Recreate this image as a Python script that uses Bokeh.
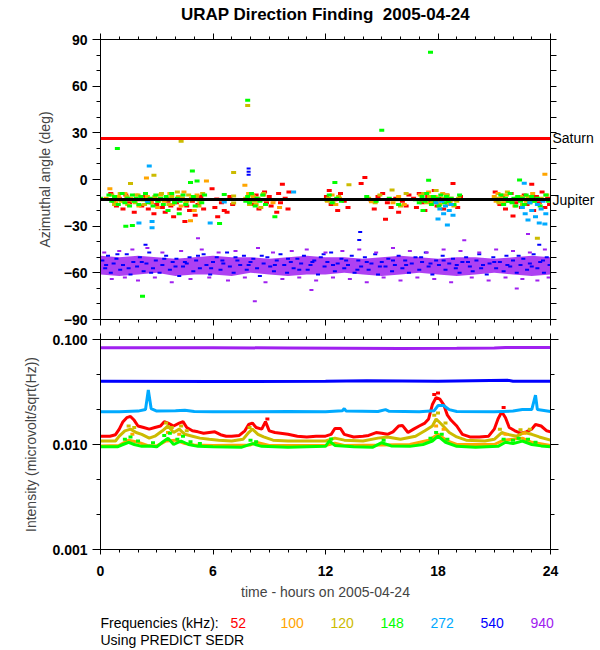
from bokeh.plotting import figure
from bokeh.models import (Range1d, LinearAxis, LogAxis, FixedTicker,
                          PrintfTickFormatter, Span)
from bokeh.core.properties import value
from bokeh.layouts import column
from bokeh.embed import file_html
from bokeh.resources import INLINE

# ---------------- data ----------------
title_text = "URAP Direction Finding \u00a02005-04-24"
y_label_top = "Azimuthal angle (deg)"
y_label_bot = "Intensity (microvolt/sqrt(Hz))"
x_label = "time - hours on 2005-04-24"
legend_title = "Frequencies (kHz):"
footer_text = "Using PREDICT SEDR"
freq_labels = ["52", "100", "120", "148", "272", "540", "940"]
freq_colors = ["#FF0000", "#FFA500", "#CCBB00", "#00FF00", "#00AAFF", "#0000FF", "#A020F0"]

hour_ticks = [0, 6, 12, 18, 24]
hour_minor = list(range(0, 25))
az_ticks = [-90, -60, -30, 0, 30, 60, 90]
az_minor = list(range(-90, 91, 10))
int_ticks = [0.001, 0.01, 0.1]
int_minor = [0.00215, 0.00464, 0.0215, 0.0464]

saturn_az = 26.4
jupiter_az = -12.9
body_names = {saturn_az: "Saturn", jupiter_az: "Jupiter"}

# azimuth scatter (hours, deg) per frequency
az_52 = [(0.55,-9),(0.7,-14),(0.85,-17),(1.0,-12),(1.2,-19),(1.35,-10),(1.55,-15),(1.8,-21),(2.0,-13),
         (2.2,-17),(2.4,-11),(2.55,-19),(2.7,-15),(2.85,-22),(3.0,-16),(3.1,-13),(3.3,-18),(3.45,-21),
         (3.6,-14),(3.75,-17),(3.9,-24),(4.05,-15),(4.2,-19),(4.35,-12),(4.5,-27),(4.6,-17),(4.75,-20),
         (4.9,-14),(5.05,-23),(5.2,-16),(5.35,-11),(5.5,-19),
         (5.95,-6),(6.1,-18),(6.2,-12.5),(6.25,-24),(6.45,-15),(6.6,-20),(6.75,-21),(6.9,-11),(7.05,-16),
         (8.1,-16),(8.3,-10),(8.45,-19),(8.6,-13),(8.75,-8),(8.85,-15),(9.0,-11),(9.1,-17),(9.25,-13),
         (9.4,-21),(9.5,-9),(9.6,-15),(9.7,-3),(9.85,-12),(10.0,-19),(10.05,-8),
         (12.05,-11),(12.2,-7),(12.3,-16),(12.5,-13),(12.65,-20),(12.8,-9),(13.0,-14),(13.2,-18),
         (13.9,-2.5),(14.1,1.3),
         (14.4,-13),(14.6,-19),(14.8,-11),(15.05,-9),(15.2,-25.5),(15.3,-15),(15.5,-18),(15.75,-12),
         (15.9,-21),(16.1,-14),(16.3,-17),(16.45,-10),
         (16.7,-12),(16.85,-18),(17.0,-9),(17.15,-15),(17.3,-20),(17.45,-11),(17.6,-14),(17.8,-7),
         (17.95,-17),(18.1,-12),(18.3,-19),(18.45,-10),(18.6,-15),(18.8,-2.5),(18.9,-13),(19.05,-18),(19.2,-11),
         (21.05,-8),(21.15,-13),(21.3,-16),(21.45,-11),(21.6,-19),(21.75,-14),(21.9,-9),(22.0,-23.5),
         (22.15,-15),(22.3,-12),(22.45,-18),(22.6,-10),(22.75,-16),(22.9,-13),(23.0,-3),(23.1,-20),
         (23.25,-11),(23.4,-15),(23.55,-8),(23.7,-18),(23.85,-12),(23.95,-16)]

az_100 = [(0.3,-12),(0.5,-6),(0.65,-13),(0.8,-15),(0.95,-11),(1.1,-14),(1.3,-9),(1.45,-16),(1.6,-12),
          (1.75,-14),(1.9,-10),(2.05,-17),(2.25,-13),(2.45,1.0),(2.5,-11),(2.7,-15),(2.9,-12),(3.05,-18),
          (3.2,-10),(3.4,-14),(3.55,-12),(3.7,-9),(3.85,-16),(4.0,-13),(4.15,-11),(4.3,-17),(4.45,-8),
          (4.6,-14),(4.8,-26.5),(4.85,-12),(5.0,-20),(5.15,-10),(5.3,-15),(5.65,-1),
          (7.7,-3.7),(7.75,-12),(7.9,-9),(8.0,-14),(8.15,-11),(8.3,-16),(8.5,-13),(8.7,-10),(9.2,-15),(9.55,-18),
          (12.1,-14),(12.35,-10),(12.55,-16),(12.75,-12),
          (14.45,-14.3),(14.6,-13),(15.6,-15),(15.9,-11),(16.2,-16),
          (17.05,-10),(17.3,-13),(17.5,-8),(17.7,-15),(17.85,-11),(18.05,-14),(18.25,-9),(18.5,-16),
          (18.7,-12),(19.0,-14),
          (21.0,-11),(21.1,-14),(21.2,-9),(21.35,-12),(21.5,-15),(21.65,-10),(21.8,-13),(22.1,-17),
          (22.4,-11),(22.7,-14),(23.05,-9),(23.35,-16),(23.7,3.4)]

az_120 = [(0.6,-10),(0.75,-16),(0.9,-12),(1.05,-9),(1.25,-14),(1.4,-11),(1.6,-2.6),(1.65,-13),(1.85,-15),
          (2.0,-10),(2.2,-12),(2.35,-16),(2.6,-13),(2.85,2.8),(2.9,-11),(3.1,-14),(3.25,-9),(3.45,-13),
          (3.65,-16),(3.8,-11),(3.95,-14),(4.1,-8),(4.3,24.6),(4.35,-12),(4.55,-15),(4.7,-10),(4.9,-13),
          (5.1,-11),(5.25,-17),(5.45,-9),
          (7.1,-10.6),(7.1,-15.1),(7.1,4.5),(6.5,-13),
          (7.85,47.6),(7.8,-13),(7.95,-16),(8.1,-10),(8.25,-14),(8.4,-12),(8.55,-18),(8.7,-9),(8.9,-13),
          (12.15,-12),(12.4,-15),(13.25,-3.4),(12.7,-11),
          (14.3,-12),(14.65,-15),(14.9,-10),(15.55,-6.8),(15.8,-13),(16.0,-17),(16.3,-9),
          (17.1,-13),(17.25,-9),(17.4,-15),(17.55,-11),(17.75,-14),(17.9,-7),(18.1,-16),(18.3,-12),
          (18.5,-10),(18.65,-14),(18.85,-17),(19.1,-12),
          (21.1,-12),(21.25,-15),(21.4,-10),(21.55,-13),(21.7,-8),(21.9,-14),(22.2,-12),(22.5,-16),
          (22.8,-11),(23.1,-14),(23.3,-37.7),(23.5,-12),(23.8,-10)]

az_148 = [(0.0,-12),(0.45,-10),(0.6,-14),(0.75,-11),(0.9,20),(0.95,-16),(1.05,-13),(1.15,-9),(1.3,-15),
          (1.35,-30),(1.45,-12),(1.55,-17),(1.7,-29.5),(1.7,-10),(1.8,-14),(1.9,-12),(2.05,-16),(2.15,-11),
          (2.24,-75),(2.3,-13),(2.4,-9),(2.55,-15),(2.65,-12),(2.8,-17),(2.95,-10),(3.05,-14),(3.2,-12),
          (3.35,-16),(3.5,-11),(3.6,-20),(3.65,-13),(3.8,-9),(3.95,-15),(4.1,-12),(4.2,-22),(4.25,-14),
          (4.4,-10),(4.55,-16),(4.7,-13),(4.8,-2),(4.9,5.5),(4.95,-11),(5.05,-17),(5.15,-1),(5.2,-13),
          (5.4,-15),(5.55,-10),
          (6.6,-9.6),(6.35,-28.3),
          (7.85,51),(7.75,-14),(7.85,-11),(7.95,-15),(8.05,-9),(8.15,-13),(8.25,-17),(8.35,-12),(8.5,-14),
          (8.65,-10),(8.8,-16),(9.3,-24),
          (12.05,-13),(12.2,-10),(12.35,-15),(12.5,-2),(12.6,-12),(12.85,-14),
          (14.2,-11),(14.7,-14),(15.0,31.7),(15.4,-12),(15.9,-16),
          (16.8,-13),(17.0,-15),(17.15,-11),(17.3,-14),(17.4,-9),(17.5,-0.5),(17.55,-13),(17.6,81.8),
          (17.65,-16),(17.75,-11),(17.85,-14),(17.95,-12),(18.05,-17),(18.15,-10),(18.25,-13),(18.35,-15),
          (18.45,-11),(18.55,-14),(18.7,-12),(18.85,-16),(19.0,-13),(19.15,-10),(17.2,-20),
          (21.2,-13),(21.35,-10),(21.5,-16),(21.6,-12),(21.75,-14),(21.85,-9),(21.95,-15),(22.05,-12),
          (22.15,-17),(22.25,-11),(22.35,-0.4),(22.4,-14),(22.5,-12),(22.6,-16),(22.7,-10),(22.8,-13),
          (22.9,-15),(23.0,-11),(23.15,-14),(23.3,-12),(23.45,-17),(23.6,-13),(23.75,-10),(23.9,-14)]

az_272 = [(2.05,-27.9),(2.6,8.7),(2.5,-14),(2.75,-27),(2.75,-31),(4.1,-13),(5.85,-27.9),(6.6,-14.4),
          (10.3,-8),(17.9,-15),(18.0,-25.4),(18.1,-19),(18.2,-14),(18.3,-22),(18.4,-17),(18.5,-29.2),
          (18.6,-20),(18.7,-16),(18.8,-23),(22.5,-18),(22.6,-2.4),(22.65,-22),(22.8,-26),(22.9,-15),
          (23.0,-20),(23.2,-24),(23.3,-16),(23.4,-28),(23.5,-19),(23.6,-14),(23.7,-28.6),(23.75,-22)]

az_540 = [(7.9,3),(7.9,5),(7.9,7),(2.4,-42),(13.85,-33.8),(13.8,-38.9),(23.4,-42),
          (0.1,-52),(0.25,-57),(0.4,-49),(0.55,-60),(0.7,-54),(0.85,-51),(1.05,-58),(1.2,-55),(1.4,-48),
          (1.6,-61),(1.75,-53),(1.95,-56),(2.1,-50),(2.3,-59),(2.45,-54),(2.6,-47),(2.8,-57),(2.95,-52),
          (3.15,-60),(3.3,-55),(3.5,-49),(3.7,-58),(3.85,-53),(4.05,-51),(4.2,-62),(4.4,-56),(4.6,-54),
          (4.75,-50),(4.95,-59),(5.1,-52),(5.3,-57),(5.5,-48),(5.65,-55),(5.85,-61),(6.0,-53),(6.2,-50),
          (6.4,-58),(6.55,-54),(6.75,-47),(6.9,-56),(7.1,-60),(7.3,-52),(7.45,-55),(7.65,-49),(7.8,-58),
          (8.0,-53),(8.15,-51),(8.35,-57),(8.5,-62),(8.7,-54),(8.9,-50),(9.05,-56),(9.25,-59),(9.4,-52),
          (9.6,-48),(9.8,-55),(9.95,-60),(10.15,-53),(10.3,-57),(10.5,-51),(10.7,-54),(10.85,-49),
          (11.05,-58),(11.2,-55),(11.4,-52),(11.6,-61),(11.75,-50),(11.95,-56),(12.1,-53),(12.3,-47),
          (12.5,-59),(12.65,-54),(12.85,-51),(13.0,-57),(13.2,-55),(13.4,-49),(13.55,-60),(13.75,-52),
          (13.9,-56),(14.1,-50),(14.3,-58),(14.45,-54),(14.65,-48),(14.8,-61),(15.0,-53),(15.2,-56),
          (15.35,-51),(15.55,-59),(15.7,-55),(15.9,-49),(16.1,-57),(16.25,-52),(16.45,-60),(16.6,-54),
          (16.8,-50),(17.0,-58),(17.15,-53),(17.35,-47),(17.5,-56),(17.7,-61),(17.9,-52),(18.05,-55),
          (18.25,-49),(18.4,-58),(18.6,-54),(18.8,-51),(18.95,-57),(19.15,-60),(19.3,-53),(19.5,-50),
          (19.7,-56),(19.85,-59),(20.05,-52),(20.2,-48),(20.4,-55),(20.6,-61),(20.75,-54),(20.95,-50),
          (21.1,-57),(21.3,-53),(21.5,-59),(21.65,-49),(21.85,-56),(22.0,-52),(22.2,-60),(22.4,-55),
          (22.55,-51),(22.75,-58),(22.9,-54),(23.1,-48),(23.3,-57),(23.45,-53),(23.65,-60),(23.8,-50),
          (23.95,-55),
          (0.3,-55),(0.9,-48),(1.5,-57),(2.2,-53),(2.7,-60),(3.4,-51),(4.0,-56),(4.5,-53),(5.2,-49),
          (5.9,-57),(6.5,-52),(7.2,-50),(7.9,-55),(8.6,-49),(9.3,-55),(10.0,-51),(10.6,-58),(11.3,-53),
          (11.9,-48),(12.4,-55),(13.1,-52),(13.7,-58),(14.2,-53),(14.9,-56),(15.6,-52),(16.3,-55),
          (17.1,-50),(17.6,-54),(18.3,-52),(19.0,-55),(19.6,-53),(20.3,-57),(21.0,-53),(21.7,-55),
          (22.3,-49),(23.0,-56),(23.6,-52)]

az_940 = [(0.2,-47),(0.6,-64),(1.0,-46),(1.3,-63),(1.7,-45),(2.0,-65),(2.5,-44),(2.9,-63),(3.3,-47),
          (3.8,-66),(4.3,-46),(4.8,-64),(5.2,-37.7),(5.4,-45),(5.8,-63),(6.3,-47),(6.8,-65),(7.2,-46),
          (7.7,-63),(8.23,-78.2),(8.4,-44),(8.8,-66),(9.2,-47),(9.7,-64),(10.2,-46),(10.6,-63),(11.0,-45),
          (11.25,-71),(11.5,-65),(12.0,-47),(12.4,-63),(12.9,-46),(13.3,-64),(13.8,-45),(14.2,-66),
          (14.7,-47),(15.1,-63),(15.6,-44),(16.0,-65),(16.5,-46),(16.9,-63),(17.4,-47),(17.8,-64),
          (18.3,-45),(18.7,-66),(19.2,-46),(19.4,-39),(19.8,-63),(20.2,-47),(20.7,-65),(21.1,-45),
          (21.6,-63),(22.0,-46),(22.2,-70),(22.5,-64),(22.8,-35),(22.9,-47),(23.3,-65),(23.7,-45),(23.9,-63)]

# dense 940 kHz band envelope (hourly)
band_hours = list(range(0, 25))
band_upper = [-49,-50,-49,-50,-51,-50,-49,-50,-50,-51,-50,-49,-50,-50,-51,-50,-49,-50,-51,-50,-50,-51,-50,-49,-50]
band_lower = [-61,-62,-61,-60,-62,-61,-61,-62,-60,-61,-62,-61,-61,-60,-61,-62,-61,-60,-61,-62,-61,-60,-61,-62,-61]

# intensity (hours, microvolt/sqrt(Hz)) -- running level per frequency
int_52 = [(0.0,0.0120),(0.5,0.0120),(0.8,0.0124),(1.0,0.0140),(1.2,0.0165),(1.4,0.0180),(1.6,0.0185),
          (1.8,0.0170),(2.0,0.0150),(2.3,0.0145),(2.6,0.0140),(2.9,0.0145),(3.2,0.0150),(3.4,0.0165),
          (3.6,0.0160),(3.9,0.0150),(4.2,0.0160),(4.4,0.0165),(4.6,0.0145),(4.9,0.0135),(5.2,0.0132),
          (5.5,0.0128),(5.8,0.0130),(6.1,0.0132),(6.4,0.0124),(6.7,0.0120),(7.0,0.0120),(7.4,0.0122),
          (7.7,0.0135),(7.9,0.0155),(8.1,0.0160),(8.3,0.0145),(8.6,0.0140),(8.8,0.0165),(9.0,0.0135),
          (9.3,0.0130),(9.6,0.0128),(10.0,0.0125),(10.5,0.0120),(11.0,0.0118),(11.5,0.0120),(12.0,0.0120),
          (12.3,0.0125),(12.5,0.0142),(12.8,0.0142),(13.0,0.0125),(13.5,0.0118),(14.0,0.0120),(14.3,0.0122),
          (14.7,0.0130),(15.0,0.0128),(15.3,0.0125),(15.6,0.0132),(15.9,0.0150),(16.1,0.0152),(16.4,0.0130),
          (16.7,0.0140),(17.0,0.0150),(17.3,0.0160),(17.5,0.0175),(17.7,0.0240),(17.9,0.0280),(18.1,0.0270),
          (18.3,0.0240),(18.5,0.0190),(18.7,0.0170),(19.0,0.0150),(19.3,0.0125),(19.7,0.0118),(20.2,0.0118),
          (20.7,0.0120),(21.0,0.0140),(21.2,0.0175),(21.4,0.0205),(21.6,0.0180),(21.8,0.0145),(22.1,0.0135),
          (22.4,0.0128),(22.7,0.0132),(23.0,0.0140),(23.2,0.0155),(23.5,0.0150),(23.8,0.0135),(24.0,0.0132)]
int_100 = [(0,0.0097),(1.0,0.0098),(1.5,0.0110),(2.0,0.0105),(2.5,0.0098),(3.0,0.0097),(3.5,0.0108),
           (4.0,0.0110),(4.5,0.0102),(5,0.0099),(6,0.0098),(8,0.0099),(8.3,0.0105),(9,0.0098),(12,0.0098),
           (12.5,0.0103),(13,0.0098),(15,0.0099),(16.5,0.0100),(17.5,0.0110),(18,0.0125),(18.5,0.0108),
           (19,0.0100),(21,0.0100),(21.5,0.0110),(22.5,0.0115),(23,0.0105),(24,0.0098)]
int_120 = [(0,0.0108),(0.8,0.0108),(1.0,0.0120),(1.3,0.0135),(1.6,0.0140),(1.9,0.0130),(2.2,0.0125),
           (2.6,0.0115),(2.9,0.0120),(3.3,0.0135),(3.6,0.0150),(3.9,0.0130),(4.2,0.0140),(4.5,0.0125),
           (4.9,0.0120),(5.3,0.0115),(5.8,0.0112),(6.3,0.0110),(7.0,0.0108),(7.6,0.0112),(7.9,0.0130),
           (8.1,0.0140),(8.4,0.0125),(8.7,0.0118),(9.2,0.0110),(10,0.0108),(12,0.0108),(12.5,0.0115),
           (13,0.0110),(14,0.0108),(14.8,0.0115),(15.3,0.0118),(16,0.0112),(16.8,0.0120),(17.3,0.0135),
           (17.7,0.0150),(17.9,0.0175),(18.2,0.0155),(18.6,0.0130),(19.0,0.0118),(19.5,0.0110),(20.5,0.0108),
           (21.0,0.0112),(21.4,0.0130),(21.7,0.0125),(22.2,0.0120),(22.6,0.0130),(23.0,0.0125),(23.4,0.0118),
           (24,0.0110)]
int_148 = [(0,0.0095),(0.9,0.0095),(1.2,0.0100),(1.5,0.0105),(1.8,0.0100),(2.2,0.0096),(2.6,0.0097),
           (3.0,0.0095),(3.3,0.0105),(3.6,0.0115),(3.9,0.0100),(4.3,0.0108),(4.7,0.0100),(5.2,0.0096),
           (6,0.0095),(7.5,0.0094),(8.1,0.0102),(8.6,0.0096),(10,0.0094),(12,0.0096),(12.2,0.0108),
           (12.5,0.0098),(13.5,0.0095),(14.5,0.0094),(15,0.0104),(15.5,0.0097),(16.5,0.0096),(17.2,0.0100),
           (17.7,0.0108),(18,0.0120),(18.4,0.0105),(19,0.0096),(20,0.0094),(21.2,0.0096),(21.6,0.0105),
           (22,0.0102),(22.5,0.0108),(23.0,0.0100),(23.5,0.0097),(24,0.0095)]
int_272 = [(0,0.0205),(1,0.0205),(2,0.0208),(2.4,0.0215),(2.55,0.0330),(2.7,0.0220),(3,0.0208),(4,0.0210),
           (4.5,0.0212),(5,0.0206),(6,0.0205),(8,0.0205),(10,0.0206),(12,0.0205),(12.9,0.0210),(13,0.0220),
           (13.1,0.0208),(14.8,0.0206),(15.2,0.0215),(15.4,0.0207),(17,0.0205),(17.8,0.0210),(18,0.0235),
           (18.3,0.0235),(18.6,0.0215),(19,0.0206),(21,0.0205),(22,0.0208),(22.5,0.0215),(23,0.0215),
           (23.2,0.0295),(23.3,0.0215),(24,0.0206)]
int_540 = [(0,0.0400),(6,0.0398),(12,0.0400),(14.2,0.0405),(18,0.0400),(21.7,0.0410),(22,0.0400),(24,0.0400)]
int_940 = [(0,0.0835),(6,0.0835),(10,0.0830),(13,0.0825),(16,0.0820),(19,0.0825),(21,0.0830),(21.6,0.0840),(24,0.0840)]

# isolated intensity samples scattered above the running level
int_pts_52 = [(17.8,0.0300),(18.0,0.0310),(21.5,0.0225),(8.9,0.0175)]
int_pts_100 = [(1.7,0.0125),(3.6,0.0130),(4.2,0.0125),(17.9,0.0150),(18.3,0.0140),(21.6,0.0125),(22.6,0.0128)]
int_pts_120 = [(1.5,0.0150),(1.8,0.0145),(3.5,0.0160),(3.8,0.0145),(4.3,0.0150),(4.6,0.0135),(7.95,0.0145),
               (17.8,0.0190),(18.0,0.0200),(18.4,0.0160),(21.3,0.0140),(22.4,0.0138),(22.9,0.0140)]
int_pts_148 = [(1.3,0.0112),(1.6,0.0118),(2.0,0.0108),(2.8,0.0104),(3.4,0.0122),(3.7,0.0128),(4.1,0.0112),
               (4.4,0.0120),(4.8,0.0106),(5.3,0.0102),(8.0,0.0110),(8.3,0.0106),(12.3,0.0113),(15.1,0.0110),
               (17.6,0.0115),(17.9,0.0130),(18.2,0.0125),(18.5,0.0112),(21.5,0.0112),(22.0,0.0110),
               (22.3,0.0115),(22.8,0.0112),(23.2,0.0105)]

az_series = [az_52, az_100, az_120, az_148, az_272]
int_series = [int_52, int_100, int_120, int_148, int_272, int_540, int_940]
int_pt_series = [int_pts_52, int_pts_100, int_pts_120, int_pts_148]

FONT = "Liberation Sans"


def style_axis(ax, tick_out, minor_out, labelled):
    ax.axis_line_color = "black"
    ax.major_tick_line_color = "black"
    ax.minor_tick_line_color = "black"
    ax.major_tick_in = 0
    ax.minor_tick_in = 0
    ax.major_tick_out = tick_out
    ax.minor_tick_out = minor_out
    ax.major_label_text_font = FONT
    ax.major_label_text_color = "black"
    if labelled:
        ax.major_label_text_font_style = "bold"
        ax.major_label_text_font_size = "14px"
    else:
        ax.major_label_overrides = {t: "" for t in ax.ticker.ticks}
        ax.major_label_text_font_size = "0px"
        ax.major_label_standoff = 0


def add_frame_axes(p, log, yt, ym, yfmt, x_labels, y_label, y_label_standoff, right_names=None):
    Y = LogAxis if log else LinearAxis
    left = Y(ticker=FixedTicker(ticks=yt, minor_ticks=ym))
    style_axis(left, 8, 4, True)
    if yfmt is not None:
        left.formatter = yfmt
    left.major_label_standoff = 5
    left.axis_label = y_label
    left.axis_label_text_font = FONT
    left.axis_label_text_font_style = "normal"
    left.axis_label_text_font_size = "14px"
    left.axis_label_standoff = y_label_standoff
    p.add_layout(left, "left")

    if right_names is None:
        right = Y(ticker=FixedTicker(ticks=yt, minor_ticks=ym))
        style_axis(right, 8, 4, False)
    else:
        right = Y(ticker=FixedTicker(ticks=list(right_names.keys()), minor_ticks=ym))
        style_axis(right, 0, 6, True)
        right.major_label_overrides = dict(right_names)
        right.major_label_text_font_style = "normal"
        right.major_label_standoff = -4
    p.add_layout(right, "right")

    above = LinearAxis(ticker=FixedTicker(ticks=hour_ticks, minor_ticks=hour_minor))
    style_axis(above, 6, 3, False)
    p.add_layout(above, "above")

    below = LinearAxis(ticker=FixedTicker(ticks=hour_ticks, minor_ticks=hour_minor))
    if x_labels:
        style_axis(below, 5, 3, True)
        below.major_label_standoff = 11
        below.axis_label = x_label
        below.axis_label_text_font = FONT
        below.axis_label_text_font_style = "normal"
        below.axis_label_text_font_size = "14px"
        below.axis_label_standoff = 5
    else:
        style_axis(below, 6, 3, False)
    p.add_layout(below, "below")


def text_strip(h):
    s = figure(width=600, height=h, x_range=Range1d(0, 600), y_range=Range1d(h, 0),
               output_backend="svg", toolbar_location=None, x_axis_location=None, y_axis_location=None,
               title=None, min_border_left=0, min_border_right=0, min_border_top=0, min_border_bottom=0)
    s.frame_align = False
    s.grid.visible = False
    s.outline_line_color = None
    return s


# ---------------- title strip (pixel coordinates, y from top) ----------------
HEAD_H = 24
head = text_strip(HEAD_H)
head.text(x=[325], y=[14], text=[title_text], text_color="black", text_font=value(FONT),
          text_font_size="17px", text_font_style="bold", text_baseline="alphabetic", text_align="center")

# ---------------- top panel ----------------
top = figure(width=600, height=305, x_range=Range1d(0, 24), y_range=Range1d(-90, 90),
             output_backend="svg", toolbar_location=None, x_axis_location=None, y_axis_location=None,
             min_border_left=100, min_border_right=50, min_border_top=15, min_border_bottom=10,
             title=None)
top.grid.visible = False
top.outline_line_color = "black"
add_frame_axes(top, False, az_ticks, az_minor, None, False, y_label_top, 8, right_names=body_names)

for series, col in zip(az_series, freq_colors[:5]):
    xs, ys = zip(*series)
    top.rect(x=list(xs), y=list(ys), width=5, height=3, width_units="screen", height_units="screen",
             fill_color=col, line_color=None)

top.varea(x=band_hours, y1=band_lower, y2=band_upper, fill_color=freq_colors[6], fill_alpha=0.85)
xs, ys = zip(*az_540)
top.rect(x=list(xs), y=list(ys), width=4, height=2, width_units="screen", height_units="screen",
         fill_color=freq_colors[5], line_color=None)
xs, ys = zip(*az_940)
top.rect(x=list(xs), y=list(ys), width=4, height=2, width_units="screen", height_units="screen",
         fill_color=freq_colors[6], line_color=None)

top.add_layout(Span(location=saturn_az, dimension="width", line_color="#FF0000", line_width=3))
top.add_layout(Span(location=jupiter_az, dimension="width", line_color="black", line_width=3))

# ---------------- bottom panel ----------------
bot = figure(width=600, height=286, x_range=Range1d(0, 24), y_range=Range1d(0.001, 0.1),
             y_axis_type="log", output_backend="svg", toolbar_location=None,
             x_axis_location=None, y_axis_location=None, title=None,
             min_border_left=100, min_border_right=50, min_border_top=10, min_border_bottom=66)
bot.grid.visible = False
bot.outline_line_color = "black"
add_frame_axes(bot, True, int_ticks, int_minor, PrintfTickFormatter(format="%.3f"), True, y_label_bot, 10)

for series, col in zip(int_series, freq_colors):
    xs, ys = zip(*series)
    bot.line(x=list(xs), y=list(ys), line_color=col, line_width=3)
for series, col in zip(int_pt_series, freq_colors[:4]):
    xs, ys = zip(*series)
    bot.rect(x=list(xs), y=list(ys), width=4, height=3, width_units="screen", height_units="screen",
             fill_color=col, line_color=None)

# ---------------- legend / footer strip (pixel coordinates, y from top) ----------------
FOOT_H = 35
leg = text_strip(FOOT_H)
row1_text = [legend_title] + freq_labels
row1_color = ["black"] + freq_colors
row1_x = [100] + [230 + 50 * i for i in range(len(freq_labels))]
leg.text(x=row1_x, y=[7.5] * len(row1_text), text=row1_text,
         text_color=row1_color, text_font=value(FONT), text_font_size="14px",
         text_baseline="alphabetic", text_align="left")
leg.text(x=[100], y=[24.5], text=[footer_text], text_color="black", text_font=value(FONT),
         text_font_size="14px", text_baseline="alphabetic", text_align="left")

layout = column(head, top, bot, leg)
open("out.html", "w").write(file_html(layout, INLINE))
